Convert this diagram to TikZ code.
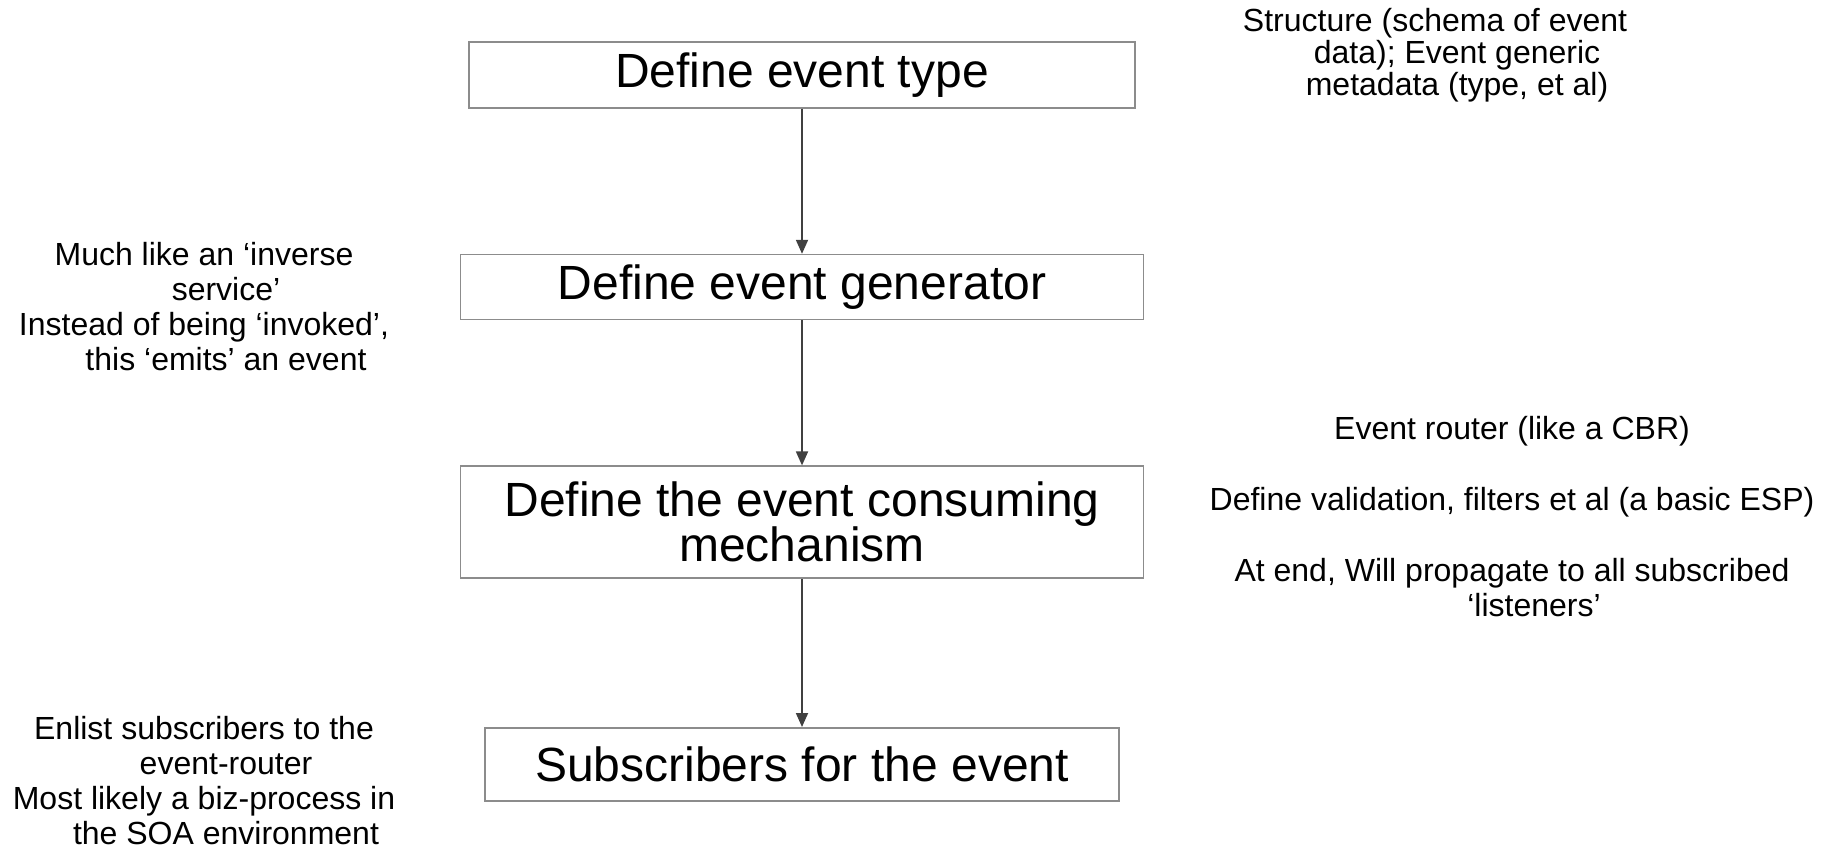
\documentclass[tikz,border=0pt]{standalone}
\usepackage{fontspec}
\setmainfont{Liberation Sans}
\usetikzlibrary{arrows.meta,positioning}
\definecolor{BoxLine}{HTML}{8C8C8C}
\definecolor{LinkGray}{HTML}{404040}
\def\wrapin{\hspace*{22pt}}
\tikzset{%
  link/.style={-{Triangle[length=7pt,width=6pt]},line width=0.9pt,draw=LinkGray,fill=LinkGray},
  stage/.style={rectangle,draw=BoxLine,line width=0.8pt,align=center,inner sep=2pt,
    font=\fontsize{24pt}{22.5pt}\selectfont},
  note/.style={align=center,inner sep=0pt,font=\fontsize{16pt}{17.5pt}\selectfont}
}

\begin{document}
\begin{tikzpicture}[x=0.5pt,y=-0.5pt]
 \useasboundingbox (0,0) rectangle (1835,851);

 \node[stage, minimum width=333pt, minimum height=33pt] (type) at (802,75) {Define event type};
 \node[stage, minimum width=341.5pt, minimum height=32.5pt, below=72.5pt of type] (gen) {Define event generator};
 \node[stage, minimum width=341.5pt, minimum height=56pt, below=72.5pt of gen] (consume) {Define the event consuming\\mechanism};
 \node[stage, minimum width=317pt, minimum height=36.5pt, below=74pt of consume] (subs) {Subscribers for the event};

 \draw[link] (type) to (gen);
 \draw[link] (gen) to (consume);
 \draw[link] (consume) to (subs);

 % side notes
 \node[note, font=\fontsize{16pt}{16pt}\selectfont] (typenote) at (1435,55.5) {Structure (schema of event\\\wrapin data); Event generic\\\wrapin metadata (type, et al)};
 \node[note] (gennote) at (204,306.5) {Much like an ‘inverse\\\wrapin service’\\Instead of being ‘invoked’,\\\wrapin this ‘emits’ an event};
 \node[note] (consumenote) at (1512,517) {Event router (like a CBR)\\[18pt]Define validation, filters et al (a basic ESP)\\[18pt]At end, Will propagate to all subscribed\\\wrapin ‘listeners’};
 \node[note] (subsnote) at (204,781) {Enlist subscribers to the\\\wrapin event-router\\Most likely a biz-process in\\\wrapin the SOA environment};

\end{tikzpicture}
\end{document}
